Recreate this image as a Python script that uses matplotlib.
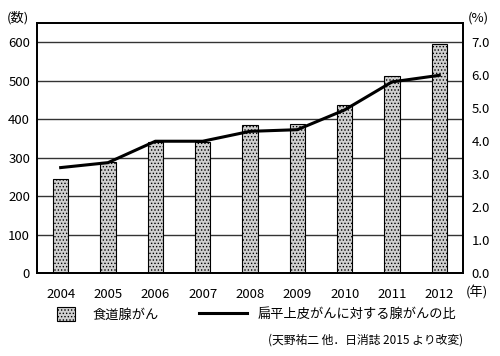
import matplotlib.pyplot as plt
import matplotlib.lines as mlines
import matplotlib.patches as mpatches

plt.rcParams['font.family'] = ['Noto Sans CJK JP', 'DejaVu Sans']
plt.rcParams['hatch.linewidth'] = 0.6

years = ['2004', '2005', '2006', '2007', '2008', '2009', '2010', '2011', '2012']
adeno_counts = [245, 290, 340, 340, 385, 387, 438, 512, 597]
ratio_pct = [3.2, 3.35, 4.0, 4.0, 4.3, 4.35, 4.95, 5.8, 6.0]

fig = plt.figure(figsize=(5, 3.56), dpi=100)
ax = fig.add_axes([0.074, 0.233, 0.852, 0.702])
x = range(len(years))

ax.set_axisbelow(True)
ax.grid(axis='y', color='#333333', linewidth=1.0)
ax.bar(x, adeno_counts, width=0.32, facecolor='#d0d0d0', edgecolor='black',
       hatch='.....', linewidth=0.8, zorder=2)
ax.set_xlim(-0.5, 8.5)
ax.set_ylim(0, 650)
ax.set_yticks(range(0, 700, 100))
ax.set_xticks(list(x))
ax.set_xticklabels(years)
ax.tick_params(length=0, labelsize=9.5, pad=6)
ax.tick_params(axis='x', pad=11)
ax.tick_params(axis='y', pad=5)
for s in ax.spines.values():
    s.set_linewidth(1.3)

ax2 = ax.twinx()
ax2.plot(x, ratio_pct, color='black', linewidth=2.2, zorder=3)
ax2.set_ylim(0, 650 * 7.0 / 600)
ax2.set_yticks([0, 1, 2, 3, 4, 5, 6, 7])
ax2.set_yticklabels(['%.1f' % v for v in [0, 1, 2, 3, 4, 5, 6, 7]])
ax2.tick_params(length=0, labelsize=9.5, pad=6)
for s in ax2.spines.values():
    s.set_linewidth(1.3)

fig.text(0.014, 0.95, '(数)', fontsize=9.5, ha='left', va='center')
fig.text(0.935, 0.95, '(%)', fontsize=9.5, ha='left', va='center')
fig.text(0.932, 0.177, '(年)', fontsize=9.5, ha='left', va='center')

bar_h = mpatches.Patch(facecolor='#d0d0d0', edgecolor='black', hatch='.....', linewidth=0.8)
line_h = mlines.Line2D([], [], color='black', linewidth=2.2)
leg1 = fig.legend([bar_h], ['食道腺がん'], loc='center left', bbox_to_anchor=(0.09, 0.117),
                  frameon=False, fontsize=9.5, handlelength=1.4, handleheight=1.2,
                  handletextpad=1.3)
fig.legend([line_h], ['扁平上皮がんに対する腺がんの比'], loc='center left',
           bbox_to_anchor=(0.375, 0.117), frameon=False, fontsize=9.5,
           handlelength=3.6, handletextpad=0.8)

fig.text(0.926, 0.045, '(天野祐二 他．日消誌 2015 より改変)', fontsize=8.5, ha='right', va='center')

fig.savefig('out.png', dpi=100)
